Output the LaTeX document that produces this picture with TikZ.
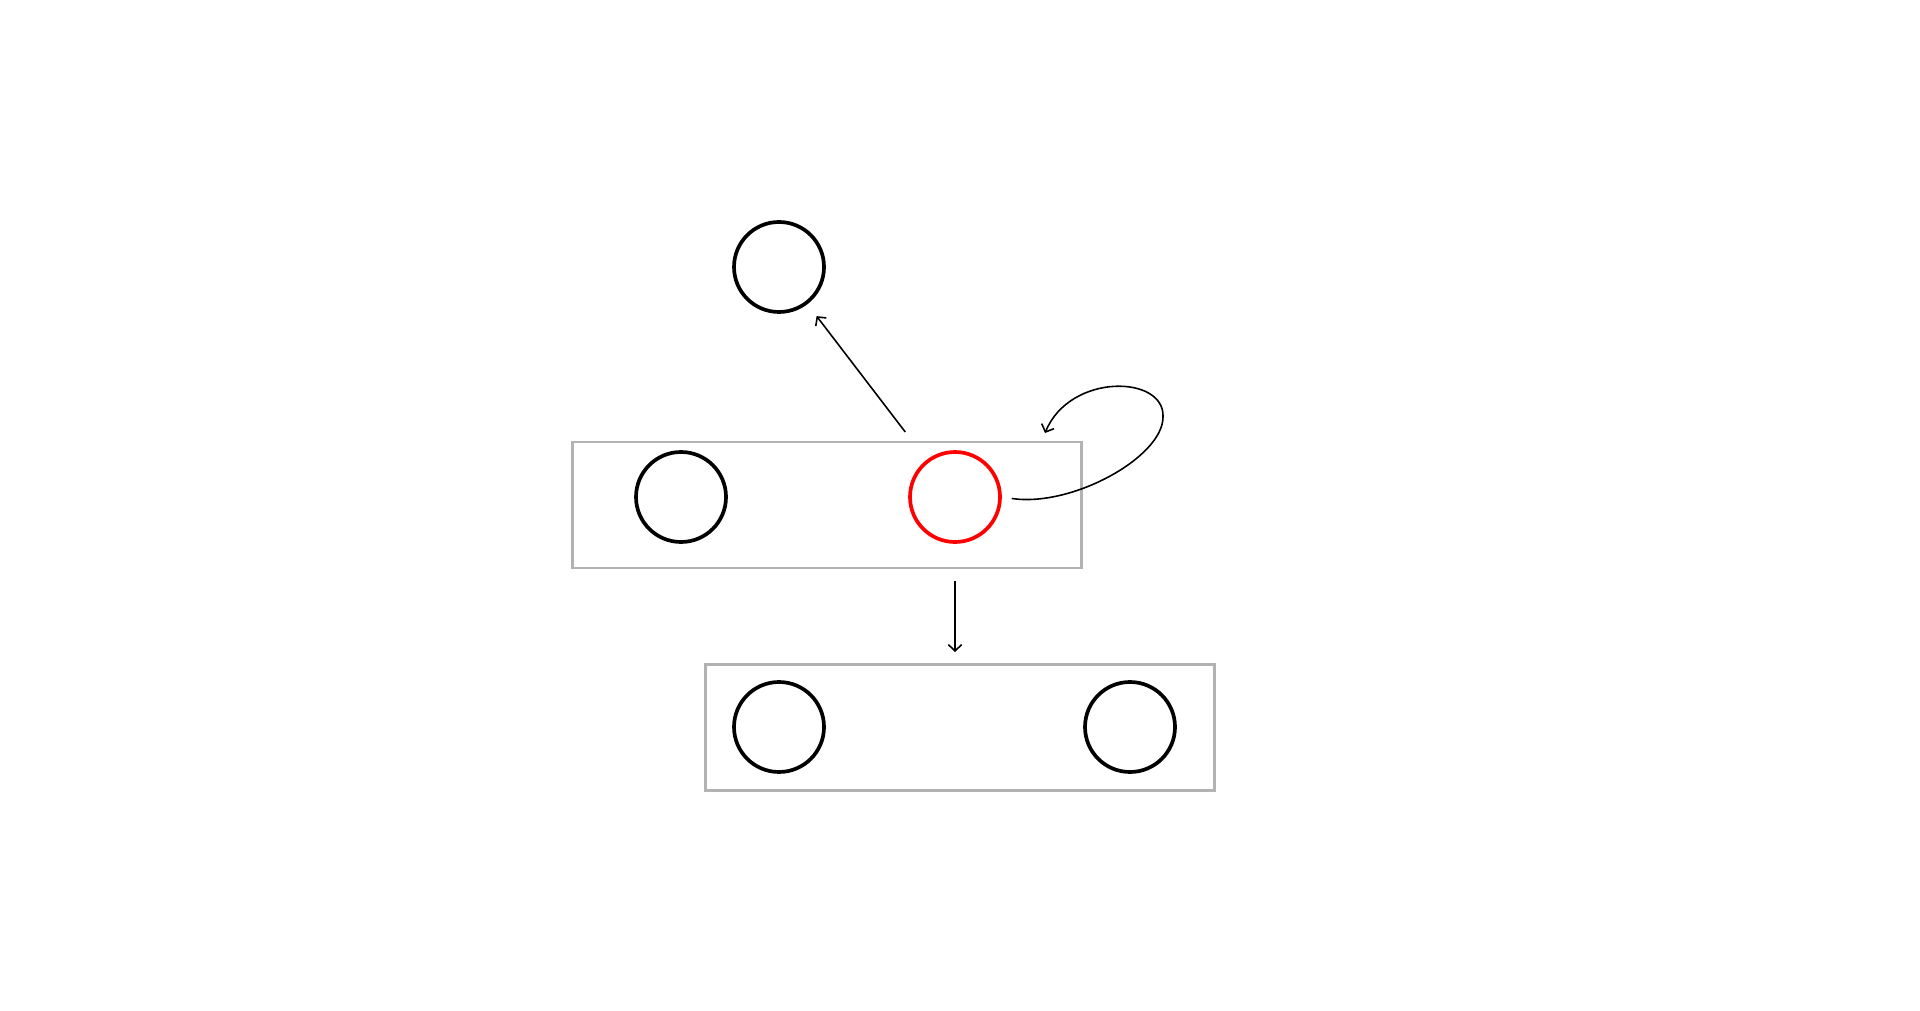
\documentclass[tikz,border=0pt]{standalone}
\usetikzlibrary{arrows.meta}
\begin{document}
\begin{tikzpicture}[
  state/.style={circle,draw,line width=2.1pt,minimum size=1.8cm,inner sep=0pt},
  group/.style={draw=black!30,line width=1.7pt,minimum width=10.18cm,minimum height=2.52cm,inner sep=0pt},
  edge/.style={-{Straight Barb[length=3.6pt,width=7.6pt]},line width=0.9pt}]
\useasboundingbox (0,0) rectangle (38.4,20.2);
\node[group] (g1) at (16.53,10.10) {};
\node[group] (g2) at (19.20,5.65) {};
\node[state] (top) at (15.58,14.86) {};
\node[state] (s1) at (13.62,10.26) {};
\node[state,red] (s2) at (19.10,10.26) {};
\node[state] (t1) at (15.58,5.66) {};
\node[state] (t2) at (22.60,5.66) {};
\coordinate (far) at (23.26,11.86);
\coordinate (tip) at (20.90,11.54);
\draw[edge,shorten <=0.7cm,shorten >=0.3cm] (s2)--(top);
\draw[edge,shorten <=0.24cm,shorten >=0.22cm] (s2 |- g1.south)--(s2 |- g2.north);
\draw[edge,shorten <=0.2cm] (s2.east) .. controls (21.44,10.05) and (23.26,11.06) .. (far)
  .. controls (23.3,12.7) and (21.4,12.75) .. (tip);
\end{tikzpicture}
\end{document}
